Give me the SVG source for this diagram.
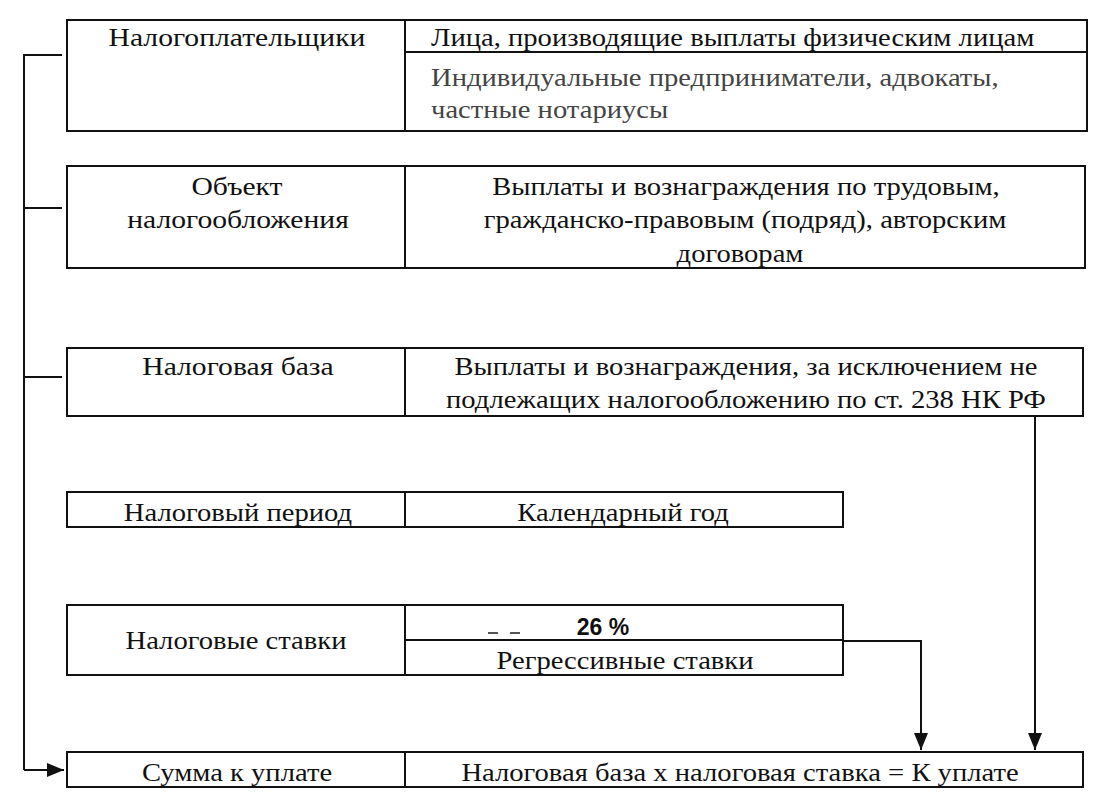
<svg xmlns="http://www.w3.org/2000/svg" width="1098" height="797" viewBox="0 0 1098 797">
<defs>
<marker id="a" viewBox="0 0 10 10" refX="10" refY="5" markerWidth="17" markerHeight="14" markerUnits="userSpaceOnUse" orient="auto" preserveAspectRatio="none"><path d="M0,0 L10,5 L0,10 z" fill="#111"/></marker>
</defs>
<g id="n1">
<g fill="none" stroke="#111" stroke-width="2">
<rect x="67" y="20" width="1020" height="111"/>
<line x1="405" y1="20" x2="405" y2="131"/>
<line x1="405" y1="52" x2="1087" y2="52"/>
</g>
<text transform="translate(237,46) scale(1.14,1)" text-anchor="middle" font-family="Liberation Serif" font-size="26" fill="#111">Налогоплательщики</text>
<text transform="translate(431,46) scale(1.1,1)" font-family="Liberation Serif" font-size="26" fill="#111">Лица, производящие выплаты физическим лицам</text>
<text transform="translate(431,86) scale(1.1,1)" font-family="Liberation Serif" font-size="26" fill="#444">Индивидуальные предприниматели, адвокаты,</text>
<text transform="translate(431,118) scale(1.1,1)" font-family="Liberation Serif" font-size="26" fill="#444">частные нотариусы</text>
</g>
<g id="n2">
<g fill="none" stroke="#111" stroke-width="2">
<rect x="67" y="166" width="1018" height="102"/>
<line x1="405" y1="166" x2="405" y2="268"/>
</g>
<text transform="translate(237,195) scale(1.14,1)" text-anchor="middle" font-family="Liberation Serif" font-size="26" fill="#111">Объект</text>
<text transform="translate(238,228) scale(1.14,1)" text-anchor="middle" font-family="Liberation Serif" font-size="26" fill="#111">налогообложения</text>
<text transform="translate(746,195) scale(1.1,1)" text-anchor="middle" font-family="Liberation Serif" font-size="26" fill="#111">Выплаты и вознаграждения по трудовым,</text>
<text transform="translate(745,228) scale(1.1,1)" text-anchor="middle" font-family="Liberation Serif" font-size="26" fill="#111">гражданско-правовым (подряд), авторским</text>
<text transform="translate(740,262) scale(1.1,1)" text-anchor="middle" font-family="Liberation Serif" font-size="26" fill="#111">договорам</text>
</g>
<g id="n3">
<g fill="none" stroke="#111" stroke-width="2">
<rect x="67" y="348" width="1016" height="68"/>
<line x1="405" y1="348" x2="405" y2="416"/>
</g>
<text transform="translate(238,375) scale(1.14,1)" text-anchor="middle" font-family="Liberation Serif" font-size="26" fill="#111">Налоговая база</text>
<text transform="translate(746,375) scale(1.1,1)" text-anchor="middle" font-family="Liberation Serif" font-size="26" fill="#111">Выплаты и вознаграждения, за исключением не</text>
<text transform="translate(746,408) scale(1.1,1)" text-anchor="middle" font-family="Liberation Serif" font-size="26" fill="#111">подлежащих налогообложению по ст. 238 НК РФ</text>
</g>
<g id="n4">
<g fill="none" stroke="#111" stroke-width="2">
<rect x="67" y="492" width="776" height="35"/>
<line x1="405" y1="492" x2="405" y2="527"/>
</g>
<text transform="translate(238,521) scale(1.1,1)" text-anchor="middle" font-family="Liberation Serif" font-size="26" fill="#111">Налоговый период</text>
<text transform="translate(623,521) scale(1.1,1)" text-anchor="middle" font-family="Liberation Serif" font-size="26" fill="#111">Календарный год</text>
</g>
<g id="n5">
<g fill="none" stroke="#111" stroke-width="2">
<rect x="67" y="605" width="776" height="70"/>
<line x1="405" y1="605" x2="405" y2="675"/>
<line x1="405" y1="640" x2="843" y2="640"/>
<line x1="488" y1="633" x2="498" y2="633" stroke="#555"/>
<line x1="510" y1="633" x2="520" y2="633" stroke="#555"/>
</g>
<text transform="translate(236,649) scale(1.1,1)" text-anchor="middle" font-family="Liberation Serif" font-size="26" fill="#111">Налоговые ставки</text>
<text x="603" y="635" text-anchor="middle" font-family="Liberation Sans" font-weight="bold" font-size="23" fill="#111">26 %</text>
<text transform="translate(625,669) scale(1.1,1)" text-anchor="middle" font-family="Liberation Serif" font-size="26" fill="#111">Регрессивные ставки</text>
</g>
<g id="n6">
<g fill="none" stroke="#111" stroke-width="2">
<rect x="67" y="752" width="1016" height="35"/>
<line x1="405" y1="752" x2="405" y2="787"/>
</g>
<text transform="translate(237,781) scale(1.1,1)" text-anchor="middle" font-family="Liberation Serif" font-size="26" fill="#111">Сумма к уплате</text>
<text transform="translate(740,781) scale(1.1,1)" text-anchor="middle" font-family="Liberation Serif" font-size="26" fill="#111">Налоговая база х налоговая ставка = К уплате</text>
</g>
<g id="connectors" fill="none" stroke="#111" stroke-width="2">
<polyline points="62,55 24,55 24,770"/>
<line x1="24" y1="208" x2="62" y2="208"/>
<line x1="24" y1="377" x2="62" y2="377"/>
<line x1="24" y1="770" x2="64" y2="770" marker-end="url(#a)"/>
<polyline points="843,641 921,641 921,750" marker-end="url(#a)"/>
<line x1="1035" y1="416" x2="1035" y2="750" marker-end="url(#a)"/>
</g>
</svg>
